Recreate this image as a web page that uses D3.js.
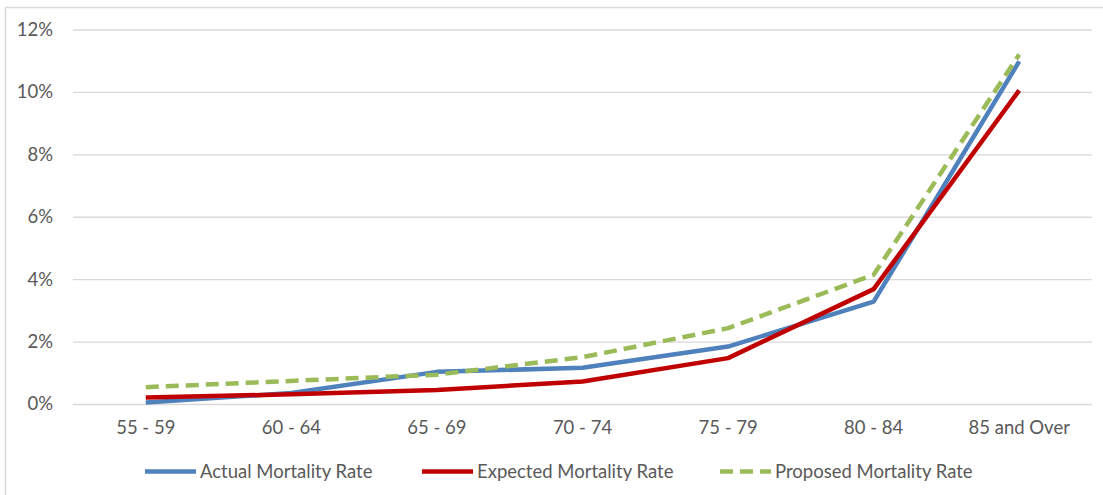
<!DOCTYPE html>
<html><head><meta charset="utf-8">
<script src="https://cdn.jsdelivr.net/npm/d3@7"></script>
<style>body{margin:0;background:#fff;}svg{display:block;font-family:Lato,"Open Sans",sans-serif;}</style>
</head><body><svg id="c" width="1103" height="495"></svg>
<script>
const categories = ["55 - 59","60 - 64","65 - 69","70 - 74","75 - 79","80 - 84","85 and Over"];
const actual   = [0.0005,0.0035,0.0103,0.0116,0.0184,0.0328,0.1098];
const expected = [0.0021,0.0031,0.0045,0.0072,0.0147,0.0368,0.1005];
const proposed = [0.0054,0.0074,0.0094,0.0150,0.0243,0.0414,0.1120];
const yTicks = [0,0.02,0.04,0.06,0.08,0.10,0.12];
const seriesNames = ["Actual Mortality Rate","Expected Mortality Rate","Proposed Mortality Rate"];

const FS = "18.5px";
const svg = d3.select("#c");
svg.append("path").attr("d","M5.5,495 V7.5 H1103").attr("fill","none").attr("stroke","#d9d9d9").attr("stroke-width",1.5);

const x = d3.scaleBand().domain(categories).range([73,1092]);
const y = d3.scaleLinear().domain([0,0.12]).range([404,29.5]);

const yAxis = svg.append("g").attr("transform","translate(73,0)")
  .call(d3.axisLeft(y).tickValues(yTicks).tickFormat(d3.format(".0%")).tickSize(-(1092-73)).tickPadding(20));
yAxis.select(".domain").remove();
yAxis.selectAll("line").attr("stroke","#d9d9d9").attr("stroke-width",1.3);
yAxis.selectAll("text").attr("fill","#595959").attr("font-size",FS).attr("font-family","Lato, sans-serif");

const xAxis = svg.append("g").attr("transform","translate(0,404)")
  .call(d3.axisBottom(x).tickSize(0).tickPadding(17));
xAxis.select(".domain").remove();
xAxis.selectAll("text").attr("fill","#595959").attr("font-size",FS).attr("font-family","Lato, sans-serif");

const series = [
  {name:seriesNames[0], values:actual, color:"#4F81BD", dash:null},
  {name:seriesNames[1], values:expected, color:"#C00000", dash:null},
  {name:seriesNames[2], values:proposed, color:"#9BBB59", dash:"13,7"}
];
const line = d3.line().x((d,i)=>x(categories[i])+x.bandwidth()/2).y(d=>y(d));
series.forEach(s=>{
  svg.append("path").datum(s.values).attr("d",line).attr("fill","none")
    .attr("stroke",s.color).attr("stroke-width",4.5).attr("stroke-linejoin","round")
    .attr("stroke-dasharray",s.dash);
});

const legX = [145,422,720];
series.forEach((s,i)=>{
  const g = svg.append("g").attr("transform",`translate(${legX[i]},471.5)`);
  g.append("line").attr("x1",0).attr("x2",51).attr("y1",0).attr("y2",0)
    .attr("stroke",s.color).attr("stroke-width",4.5).attr("stroke-dasharray",s.dash);
  g.append("text").attr("x",55).attr("y",0).attr("dy","0.35em").attr("fill","#595959")
    .attr("font-size",FS).text(s.name);
});
</script></body></html>
